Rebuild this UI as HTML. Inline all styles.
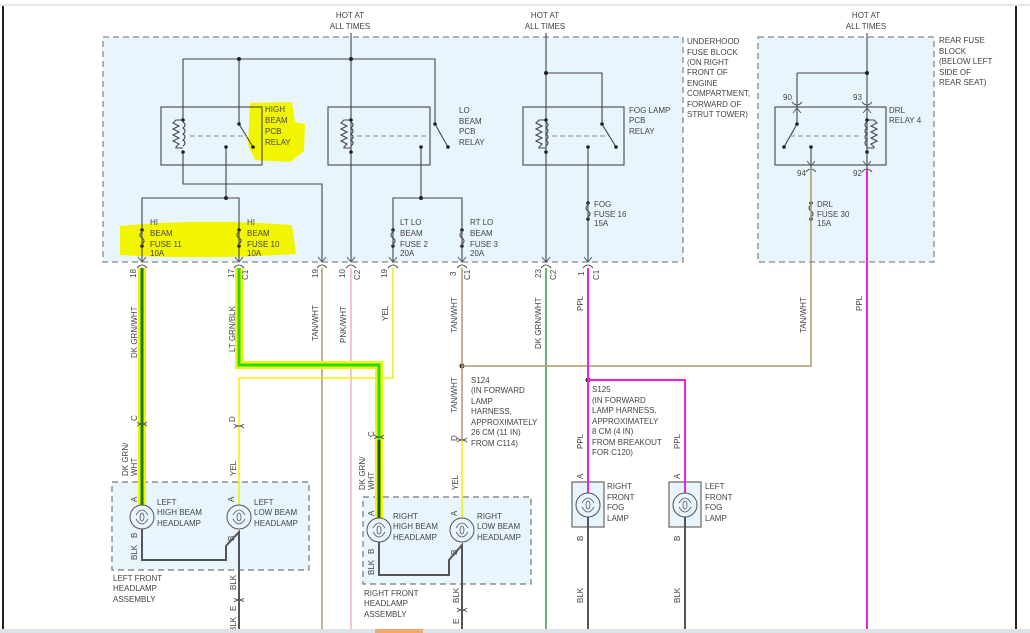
<!DOCTYPE html>
<html><head><meta charset="utf-8"><style>
html,body{margin:0;padding:0;background:#fff;width:1030px;height:633px;overflow:hidden}
svg{display:block}
text{font-family:"Liberation Sans",sans-serif;font-size:8px;fill:#444}
</style></head><body>
<svg width="1030" height="633" viewBox="0 0 1030 633" xmlns="http://www.w3.org/2000/svg">
<defs>
<g id="fuse"><circle cx="0" cy="0" r="1.8" fill="#222"/><circle cx="0" cy="16" r="1.8" fill="#222"/><path d="M0 0 v2 q-4 3 0 6 q4 3 0 6 v2" fill="none" stroke="#555" stroke-width="1.2"/></g>
<g id="coil"><path d="M0 0 H-7 l-3 3 l6 3 l-6 3 l6 3 l-6 3 l6 3 l-6 3 l6 3 l-3 3 v1 H0" fill="none" stroke="#444" stroke-width="1.1"/><path d="M0 2 q4 3 0 6 q4 3 0 6 q4 3 0 6 q4 3 0 6" fill="none" stroke="#444" stroke-width="1.1"/><circle cx="0" cy="0" r="1.8" fill="#222"/><circle cx="0" cy="32" r="1.8" fill="#222"/></g>
<g id="conn"><path d="M-4 -5 L0 0 L4 -5" fill="none" stroke="#555" stroke-width="1"/><path d="M-5 6 q5 -6 10 0" fill="none" stroke="#555" stroke-width="1"/></g>
<g id="lamp"><circle r="12" fill="none" stroke="#555" stroke-width="1"/><path d="M-6 -2 q6 -10 12 0 M-6 2 q6 10 12 0" fill="none" stroke="#555" stroke-width="0.8"/><ellipse rx="2" ry="4" fill="none" stroke="#555" stroke-width="0.8"/></g>
</defs>
<line x1="0" y1="5" x2="1030" y2="5" stroke="#ddd" stroke-width="1.5"/>
<line x1="3" y1="6" x2="3" y2="633" stroke="#222" stroke-width="2"/>
<line x1="1016" y1="6" x2="1016" y2="633" stroke="#222" stroke-width="2"/>

<!-- boxes -->
<rect x="103" y="37" width="580" height="225" fill="#e9f5fd" stroke="#888" stroke-width="1.3" stroke-dasharray="6,4"/>
<rect x="758" y="37" width="176" height="225" fill="#e9f5fd" stroke="#888" stroke-width="1.3" stroke-dasharray="6,4"/>
<rect x="112" y="482" width="197" height="88" fill="#e9f5fd" stroke="#777" stroke-width="1.2" stroke-dasharray="6,4"/>
<rect x="363" y="497" width="168" height="87" fill="#e9f5fd" stroke="#777" stroke-width="1.2" stroke-dasharray="6,4"/>
<rect x="572" y="482" width="32" height="45" fill="#e9f5fd" stroke="#666" stroke-width="1.2"/>
<rect x="669" y="482" width="32" height="45" fill="#e9f5fd" stroke="#666" stroke-width="1.2"/>

<!-- highlights -->
<path d="M250 103 L292 102 L295 122 L305 124 L304 151 L290 162 L255 160 L248 145 Z" fill="#f2f500"/>
<path d="M120 226 Q200 218 292 225 L296 254 Q200 260 120 255 Z" fill="#f2f500"/>

<!-- hot lines -->
<text x="350" y="18" text-anchor="middle">HOT AT</text><text x="350" y="29" text-anchor="middle">ALL TIMES</text>
<text x="545" y="18" text-anchor="middle">HOT AT</text><text x="545" y="29" text-anchor="middle">ALL TIMES</text>
<text x="866" y="18" text-anchor="middle">HOT AT</text><text x="866" y="29" text-anchor="middle">ALL TIMES</text>

<g stroke="#444" stroke-width="1.1" fill="none">
<!-- relay 1 & 2 wiring -->
<path d="M351 33 V262 M183 59 H435 V124 M183 59 V120 M239 59 V124 M183 152 V184 H322 V262"/>
<rect x="161" y="107" width="101" height="58"/>
<rect x="328" y="107" width="102" height="58"/>
<path d="M239 124 L253 147 M226 147 V198 M142 262 V198 H239 V262"/>
<path d="M435 124 L448 147 M421 147 V198 M393 262 V198 H462 V262"/>
<!-- fog -->
<rect x="523" y="107" width="101" height="58"/>
<path d="M546 33 V262 M546 73 H602 V124 L616 147 M588 147 V262"/>
<!-- rear -->
<rect x="775" y="107" width="111" height="58"/>
<path d="M867 33 V170 M797 73 H867 M797 73 V124 L784 147 M811 147 V168"/>
</g>
<g stroke="#888" stroke-width="1" stroke-dasharray="5,3"><line x1="190" y1="136" x2="247" y2="136"/><line x1="357" y1="136" x2="430" y2="136"/><line x1="552" y1="136" x2="610" y2="136"/><line x1="790" y1="136" x2="862" y2="136"/></g>
<use href="#coil" x="183" y="120"/><use href="#coil" x="351" y="120"/><use href="#coil" x="546" y="120"/>
<g transform="translate(867,120) scale(-1,1)"><use href="#coil"/></g>
<g fill="#222"><circle cx="239" cy="59" r="2"/><circle cx="351" cy="59" r="2"/><circle cx="546" cy="73" r="2"/><circle cx="867" cy="73" r="2"/>
<circle cx="239" cy="124" r="1.8"/><circle cx="253" cy="147" r="1.8"/><circle cx="226" cy="147" r="1.8"/><circle cx="226" cy="198" r="2"/>
<circle cx="435" cy="124" r="1.8"/><circle cx="448" cy="147" r="1.8"/><circle cx="421" cy="147" r="1.8"/><circle cx="421" cy="198" r="2"/>
<circle cx="602" cy="124" r="1.8"/><circle cx="616" cy="147" r="1.8"/><circle cx="588" cy="147" r="1.8"/>
<circle cx="797" cy="124" r="1.8"/><circle cx="784" cy="147" r="1.8"/><circle cx="811" cy="147" r="1.8"/>
<circle cx="462" cy="366" r="2.5"/><circle cx="588" cy="380" r="2.5"/></g>
<use href="#fuse" x="142" y="230"/><use href="#fuse" x="239" y="230"/><use href="#fuse" x="393" y="230"/><use href="#fuse" x="462" y="230"/><use href="#fuse" x="588" y="203"/><use href="#fuse" x="811" y="203"/>
<g transform="translate(797,108) scale(1,-1)"><use href="#conn"/></g><g transform="translate(867,108) scale(1,-1)"><use href="#conn"/></g>
<use href="#conn" x="811" y="166"/><use href="#conn" x="867" y="166"/>
<g><use href="#conn" x="142" y="262"/><use href="#conn" x="239" y="262"/><use href="#conn" x="322" y="262"/><use href="#conn" x="351" y="262"/><use href="#conn" x="393" y="262"/><use href="#conn" x="462" y="262"/><use href="#conn" x="546" y="262"/><use href="#conn" x="588" y="262"/></g>

<!-- wires below -->
<g fill="none">
<path d="M322 268 V633" stroke="#b09a6a" stroke-width="1.5"/>
<path d="M351 268 V633" stroke="#f4b0c0" stroke-width="1.5"/>
<path d="M546 268 V633" stroke="#6db36d" stroke-width="2"/>
<path d="M811 170 V366 H462 M462 268 V440" stroke="#b09a6a" stroke-width="1.5"/>
<path d="M393 268 V378 H239 V505 M462 440 V518" stroke="#f4f000" stroke-width="1.5"/>
<path d="M588 268 V493 M588 380 H685 V493 M867 170 V633" stroke="#f020e0" stroke-width="2"/>
<path d="M142 268 V505" stroke="#f2f500" stroke-width="8"/><path d="M142 268 V505" stroke="#1a7a1a" stroke-width="3"/>
<path d="M239 268 V365 H379 V518" stroke="#f2f500" stroke-width="8"/><path d="M239 268 V365 H379 V518" stroke="#22dd22" stroke-width="3"/><path d="M379 440 V518" stroke="#1a5a1a" stroke-width="3"/>
<g stroke="#555" stroke-width="2">
<path d="M142 529 V560 H226 V546 L239 532 V633"/>
<path d="M379 542 V575 H449 V560 L462 545 V633"/>
<path d="M588 517 V633 M685 517 V633"/>
</g>
</g>
<use href="#lamp" x="142" y="517"/><use href="#lamp" x="239" y="517"/><use href="#lamp" x="379" y="530"/><use href="#lamp" x="462" y="530"/><use href="#lamp" x="588" y="505"/><use href="#lamp" x="685" y="505"/>
<g stroke="#555" fill="none" stroke-width="1"><path d="M137 422 q5 4 10 0 M137 426 q5 -4 10 0 M234 424 q5 4 10 0 M234 428 q5 -4 10 0 M374 435 q5 4 10 0 M374 439 q5 -4 10 0 M457 438 q5 4 10 0 M457 442 q5 -4 10 0 M234 598 q5 4 10 0 M234 602 q5 -4 10 0 M457 608 q5 4 10 0 M457 612 q5 -4 10 0"/></g>

<!-- labels -->
<g><text x="265" y="112">HIGH</text><text x="265" y="123">BEAM</text><text x="265" y="134">PCB</text><text x="265" y="145">RELAY</text>
<text x="459" y="113">LO</text><text x="459" y="124">BEAM</text><text x="459" y="134">PCB</text><text x="459" y="145">RELAY</text>
<text x="629" y="113">FOG LAMP</text><text x="629" y="123">PCB</text><text x="629" y="134">RELAY</text>
<text x="889" y="113">DRL</text><text x="889" y="123">RELAY 4</text>
<text x="687" y="44">UNDERHOOD</text><text x="687" y="55">FUSE BLOCK</text><text x="687" y="65">(ON RIGHT</text><text x="687" y="75">FRONT OF</text><text x="687" y="86">ENGINE</text><text x="687" y="96">COMPARTMENT,</text><text x="687" y="107">FORWARD OF</text><text x="687" y="117">STRUT TOWER)</text>
<text x="939" y="43">REAR FUSE</text><text x="939" y="54">BLOCK</text><text x="939" y="64">(BELOW LEFT</text><text x="939" y="75">SIDE OF</text><text x="939" y="85">REAR SEAT)</text>
<text x="150" y="225">HI</text><text x="150" y="236">BEAM</text><text x="150" y="247">FUSE 11</text><text x="150" y="256">10A</text>
<text x="247" y="225">HI</text><text x="247" y="236">BEAM</text><text x="247" y="247">FUSE 10</text><text x="247" y="256">10A</text>
<text x="400" y="225">LT LO</text><text x="400" y="236">BEAM</text><text x="400" y="247">FUSE 2</text><text x="400" y="256">20A</text>
<text x="470" y="225">RT LO</text><text x="470" y="236">BEAM</text><text x="470" y="247">FUSE 3</text><text x="470" y="256">20A</text>
<text x="594" y="207">FOG</text><text x="594" y="217">FUSE 16</text><text x="594" y="226">15A</text>
<text x="817" y="207">DRL</text><text x="817" y="217">FUSE 30</text><text x="817" y="226">15A</text>
<text x="783" y="100">90</text><text x="853" y="100">93</text><text x="797" y="176">94</text><text x="853" y="176">92</text>
<text x="471" y="383">S124</text><text x="471" y="393">(IN FORWARD</text><text x="471" y="404">LAMP</text><text x="471" y="414">HARNESS,</text><text x="471" y="425">APPROXIMATELY</text><text x="471" y="435">26 CM (11 IN)</text><text x="471" y="446">FROM C114)</text>
<text x="592" y="392">S125</text><text x="592" y="403">(IN FORWARD</text><text x="592" y="413">LAMP HARNESS,</text><text x="592" y="424">APPROXIMATELY</text><text x="592" y="434">8 CM (4 IN)</text><text x="592" y="445">FROM BREAKOUT</text><text x="592" y="455">FOR C120)</text>
<text x="157" y="505">LEFT</text><text x="157" y="515">HIGH BEAM</text><text x="157" y="526">HEADLAMP</text>
<text x="254" y="505">LEFT</text><text x="254" y="515">LOW BEAM</text><text x="254" y="526">HEADLAMP</text>
<text x="393" y="519">RIGHT</text><text x="393" y="529">HIGH BEAM</text><text x="393" y="540">HEADLAMP</text>
<text x="477" y="519">RIGHT</text><text x="477" y="529">LOW BEAM</text><text x="477" y="540">HEADLAMP</text>
<text x="607" y="489">RIGHT</text><text x="607" y="500">FRONT</text><text x="607" y="510">FOG</text><text x="607" y="521">LAMP</text>
<text x="705" y="489">LEFT</text><text x="705" y="500">FRONT</text><text x="705" y="510">FOG</text><text x="705" y="521">LAMP</text>
<text x="113" y="581">LEFT FRONT</text><text x="113" y="591">HEADLAMP</text><text x="113" y="602">ASSEMBLY</text>
<text x="364" y="596">RIGHT FRONT</text><text x="364" y="606">HEADLAMP</text><text x="364" y="617">ASSEMBLY</text>
</g>
<!-- rotated labels -->
<g>
<text transform="translate(136,278) rotate(-90)">18</text>
<text transform="translate(234,278) rotate(-90)">17</text><text transform="translate(248,280) rotate(-90)">C1</text>
<text transform="translate(318,278) rotate(-90)">19</text>
<text transform="translate(345,278) rotate(-90)">10</text><text transform="translate(360,280) rotate(-90)">C2</text>
<text transform="translate(387,278) rotate(-90)">19</text>
<text transform="translate(456,276) rotate(-90)">3</text><text transform="translate(470,280) rotate(-90)">C1</text>
<text transform="translate(541,278) rotate(-90)">23</text><text transform="translate(556,280) rotate(-90)">C2</text>
<text transform="translate(584,276) rotate(-90)">1</text><text transform="translate(599,280) rotate(-90)">C1</text>
<text transform="translate(137,358) rotate(-90)">DK GRN/WHT</text>
<text transform="translate(235,352) rotate(-90)">LT GRN/BLK</text>
<text transform="translate(318,341) rotate(-90)">TAN/WHT</text>
<text transform="translate(346,343) rotate(-90)">PNK/WHT</text>
<text transform="translate(388,321) rotate(-90)">YEL</text>
<text transform="translate(457,333) rotate(-90)">TAN/WHT</text>
<text transform="translate(541,349) rotate(-90)">DK GRN/WHT</text>
<text transform="translate(583,311) rotate(-90)">PPL</text>
<text transform="translate(806,333) rotate(-90)">TAN/WHT</text>
<text transform="translate(862,311) rotate(-90)">PPL</text>
<text transform="translate(457,413) rotate(-90)">TAN/WHT</text>
<text transform="translate(137,421) rotate(-90)">C</text>
<text transform="translate(235,422) rotate(-90)">D</text>
<text transform="translate(374,437) rotate(-90)">C</text>
<text transform="translate(457,441) rotate(-90)">D</text>
<text transform="translate(128,476) rotate(-90)">DK GRN/</text><text transform="translate(137,476) rotate(-90)">WHT</text>
<text transform="translate(236,476) rotate(-90)">YEL</text>
<text transform="translate(365,490) rotate(-90)">DK GRN/</text><text transform="translate(374,490) rotate(-90)">WHT</text>
<text transform="translate(458,490) rotate(-90)">YEL</text>
<text transform="translate(583,449) rotate(-90)">PPL</text>
<text transform="translate(680,449) rotate(-90)">PPL</text>
<text transform="translate(137,502) rotate(-90)">A</text><text transform="translate(234,502) rotate(-90)">A</text>
<text transform="translate(374,516) rotate(-90)">A</text><text transform="translate(457,516) rotate(-90)">A</text>
<text transform="translate(583,479) rotate(-90)">A</text><text transform="translate(680,479) rotate(-90)">A</text>
<text transform="translate(137,538) rotate(-90)">B</text><text transform="translate(234,541) rotate(-90)">B</text>
<text transform="translate(374,554) rotate(-90)">B</text><text transform="translate(457,555) rotate(-90)">B</text>
<text transform="translate(583,541) rotate(-90)">B</text><text transform="translate(680,541) rotate(-90)">B</text>
<text transform="translate(137,560) rotate(-90)">BLK</text><text transform="translate(137,560) rotate(-90)"></text>
<text transform="translate(374,575) rotate(-90)">BLK</text>
<text transform="translate(236,590) rotate(-90)">BLK</text><text transform="translate(236,611) rotate(-90)">E</text><text transform="translate(236,632) rotate(-90)">BLK</text>
<text transform="translate(459,603) rotate(-90)">BLK</text><text transform="translate(459,624) rotate(-90)">E</text>
<text transform="translate(583,603) rotate(-90)">BLK</text>
<text transform="translate(680,603) rotate(-90)">BLK</text>
</g>
<rect x="0" y="629" width="1030" height="4" fill="#dde2e6"/>
<rect x="375" y="629" width="48" height="4" fill="#f4a86a"/>
</svg>
</body></html>
